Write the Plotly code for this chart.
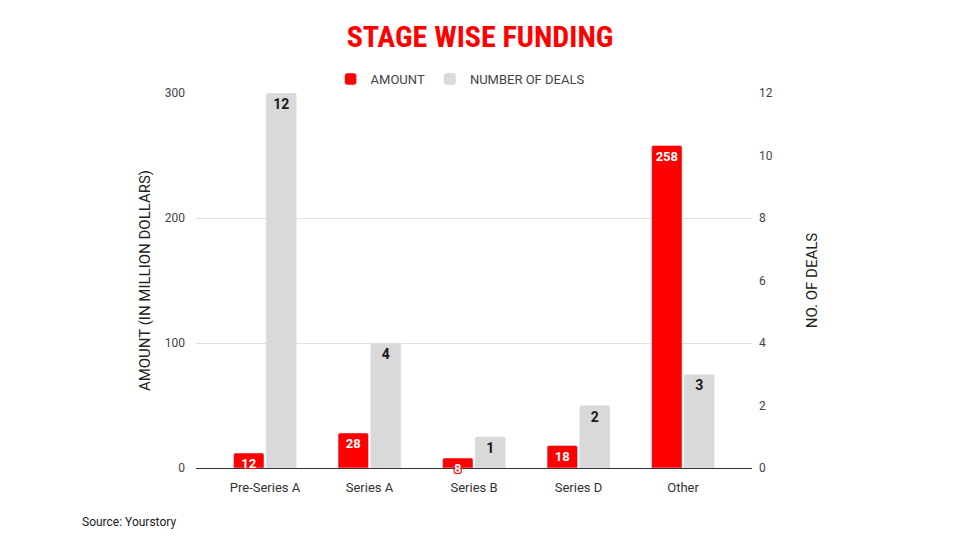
import plotly.graph_objects as go

categories = ["Pre-Series A", "Series A", "Series B", "Series D", "Other"]
amount = [12, 28, 8, 18, 258]
deals = [12, 4, 1, 2, 3]
left_ticks = [0, 100, 200, 300]
right_ticks = [0, 2, 4, 6, 8, 10, 12]

RED = "#ff0000"
GRAY = "#d9d9d9"
FONT = "Roboto, Arial, sans-serif"

# page body has an 8px offset; layout numbers below compensate for it
OFF = 8
L, R, T, B = 196 - OFF, 960 - 752 + OFF, 93 - OFF, 540 - 468 + OFF
PW, PH = 960 - L - R, 540 - T - B

fig = go.Figure()
fig.add_trace(go.Bar(
    x=categories, y=amount, name="AMOUNT", marker_color=RED, yaxis="y", offsetgroup="a",
    text=amount, textposition="inside", insidetextanchor="end", constraintext="none", textangle=0,
    textfont=dict(family=FONT, size=13, color="white", weight="bold",
                  shadow="1px 1px 0 #ff0000, -1px -1px 0 #ff0000, 1px -1px 0 #ff0000, -1px 1px 0 #ff0000"),
    cliponaxis=False,
))
fig.add_trace(go.Bar(
    x=categories, y=deals, name="NUMBER OF DEALS", marker_color=GRAY, yaxis="y2", offsetgroup="b",
    text=deals, textposition="inside", insidetextanchor="end", constraintext="none", textangle=0,
    textfont=dict(family=FONT, size=14, color="#1a1a1a", weight="bold"),
    cliponaxis=False,
))

fig.update_layout(
    width=960, height=540,
    paper_bgcolor="white", plot_bgcolor="white",
    margin=dict(l=L, r=R, t=T, b=B),
    barmode="group", bargap=0.38, bargroupgap=0.06, barcornerradius=2,
    uniformtext=dict(minsize=13, mode="show"),
    font=dict(family=FONT, size=12, color="#444444"),
    title=dict(text="STAGE WISE FUNDING", x=(480 - OFF) / 960, xanchor="center", xref="container",
               y=1 - (36 - OFF) / 540, yanchor="middle", yref="container",
               font=dict(family="Roboto Condensed, Liberation Sans Narrow, DejaVu Sans Condensed, sans-serif",
                         size=30, color=RED, weight="bold")),
    legend=dict(orientation="h", x=0.475, xanchor="center", y=1 + 14 / PH, yanchor="middle",
                font=dict(family=FONT, size=13, color="#444444"), traceorder="normal"),
    xaxis=dict(range=[-0.66, 4.66], showgrid=False, ticks="", showline=False, ticklabelstandoff=10,
               tickfont=dict(size=13, color="#333333")),
    yaxis=dict(range=[0, 300], tickvals=left_ticks, showgrid=True, gridcolor="#e0e0e0", gridwidth=1,
               zeroline=True, zerolinecolor="#333333", zerolinewidth=1, ticks="", ticklabelstandoff=10,
               title=dict(text="AMOUNT (IN MILLION DOLLARS)", standoff=10,
                          font=dict(size=15, color="#222222")),
               tickfont=dict(size=12, color="#444444")),
    yaxis2=dict(range=[0, 12], tickvals=right_ticks, overlaying="y", side="right", showgrid=False,
                zeroline=False, ticks="", ticklabelstandoff=6,
                title=dict(text="NO. OF DEALS", standoff=34, font=dict(size=15, color="#222222")),
                tickfont=dict(size=12, color="#444444")),
    annotations=[dict(text="Source: Yourstory",
                      x=(80 - OFF - L) / PW, y=(540 - B - (522 - OFF)) / PH,
                      xref="paper", yref="paper",
                      xanchor="left", yanchor="middle", showarrow=False,
                      font=dict(family=FONT, size=12, color="#222222"))],
)

fig.write_html("out.html")
